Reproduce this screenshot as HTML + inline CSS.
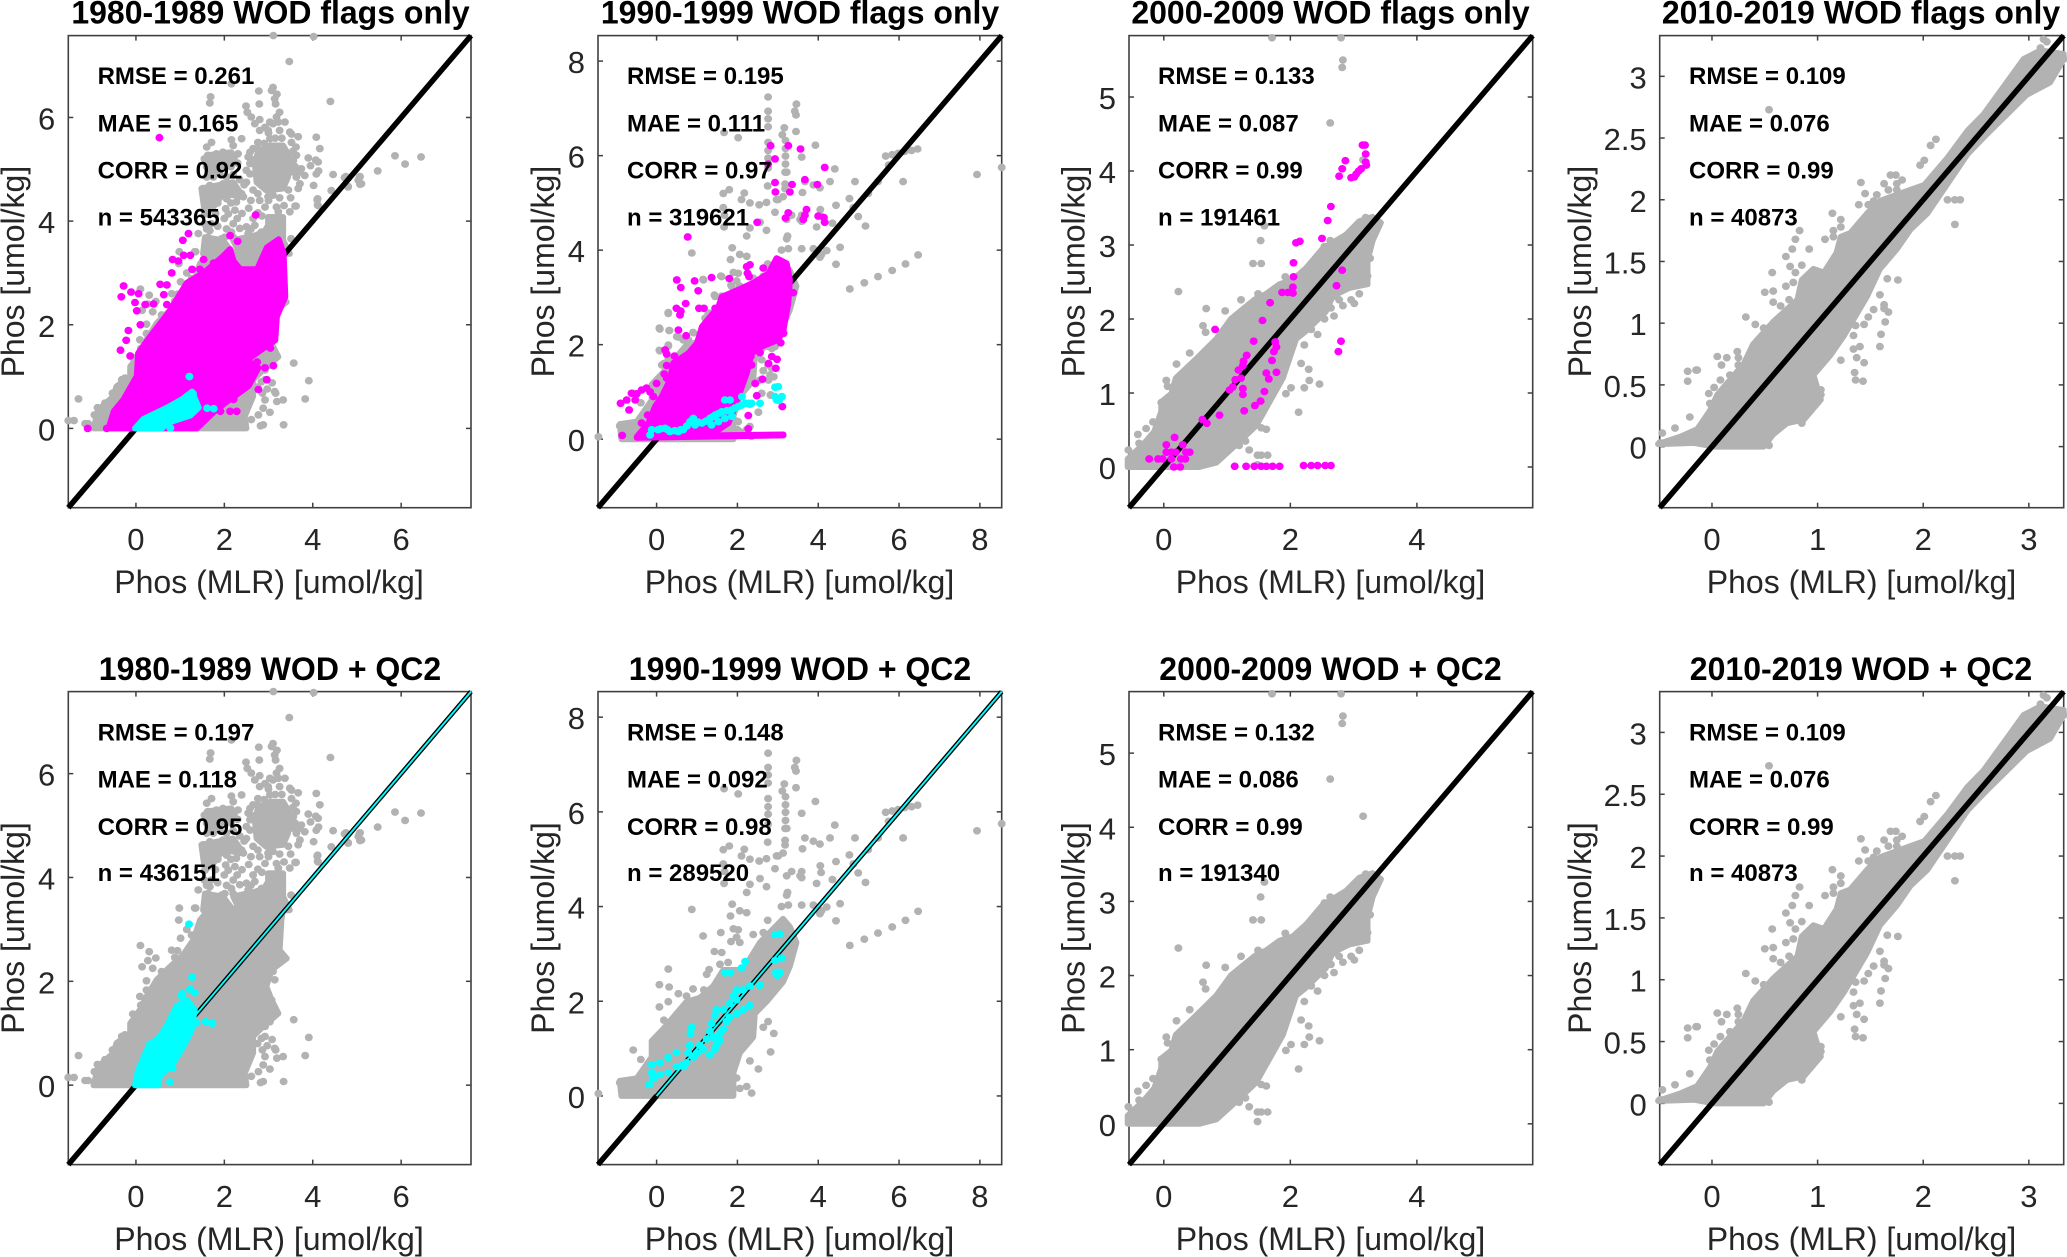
<!DOCTYPE html>
<html lang="en">
<head>
<meta charset="utf-8">
<title>Phos vs MLR scatter panels</title>
<style>
html,body{margin:0;padding:0;background:#fff;}
svg{display:block;font-family:"Liberation Sans",Arial,sans-serif;}
.title{font-size:32px;font-weight:bold;text-anchor:middle;fill:#000;}
.label{font-size:32px;text-anchor:middle;fill:#262626;}
.stat{font-size:24px;font-weight:bold;fill:#000;}
.tick{font-size:31px;fill:#262626;}
</style>
</head>
<body>
<svg id="figure" xmlns="http://www.w3.org/2000/svg" width="2067" height="1257" viewBox="0 0 2067 1257">
<rect x="0" y="0" width="2067" height="1257" fill="#fff"/>
<g id="marks"></g>

<g>
<text class="title" x="270.5" y="23.7">1980-1989 WOD flags only</text>
<text class="title" x="800" y="23.7">1990-1999 WOD flags only</text>
<text class="title" x="1330.5" y="23.7">2000-2009 WOD flags only</text>
<text class="title" x="1861" y="23.7">2010-2019 WOD flags only</text>
<text class="title" x="270" y="680">1980-1989 WOD + QC2</text>
<text class="title" x="800" y="680">1990-1999 WOD + QC2</text>
<text class="title" x="1330.5" y="680">2000-2009 WOD + QC2</text>
<text class="title" x="1861" y="680">2010-2019 WOD + QC2</text>
</g>

<g>
<text class="label" x="269" y="593">Phos (MLR) [umol/kg]</text>
<text class="label" x="799.5" y="593">Phos (MLR) [umol/kg]</text>
<text class="label" x="1330.5" y="593">Phos (MLR) [umol/kg]</text>
<text class="label" x="1861.5" y="593">Phos (MLR) [umol/kg]</text>
<text class="label" x="269" y="1250">Phos (MLR) [umol/kg]</text>
<text class="label" x="799.5" y="1250">Phos (MLR) [umol/kg]</text>
<text class="label" x="1330.5" y="1250">Phos (MLR) [umol/kg]</text>
<text class="label" x="1861.5" y="1250">Phos (MLR) [umol/kg]</text>
</g>

<g>
<text class="label" transform="translate(24,271.6) rotate(-90)">Phos [umol/kg]</text>
<text class="label" transform="translate(554,271.6) rotate(-90)">Phos [umol/kg]</text>
<text class="label" transform="translate(1084.5,271.6) rotate(-90)">Phos [umol/kg]</text>
<text class="label" transform="translate(1591,271.6) rotate(-90)">Phos [umol/kg]</text>
<text class="label" transform="translate(24,928) rotate(-90)">Phos [umol/kg]</text>
<text class="label" transform="translate(554,928) rotate(-90)">Phos [umol/kg]</text>
<text class="label" transform="translate(1084.5,928) rotate(-90)">Phos [umol/kg]</text>
<text class="label" transform="translate(1591,928) rotate(-90)">Phos [umol/kg]</text>
</g>

<g>
<text class="stat" x="97.6" y="83.8">RMSE = 0.261</text>
<text class="stat" x="97.6" y="131.3">MAE = 0.165</text>
<text class="stat" x="97.6" y="178.7">CORR = 0.92</text>
<text class="stat" x="97.6" y="225.4">n = 543365</text>
<text class="stat" x="627" y="83.8">RMSE = 0.195</text>
<text class="stat" x="627" y="131.3">MAE = 0.111</text>
<text class="stat" x="627" y="178.7">CORR = 0.97</text>
<text class="stat" x="627" y="225.4">n = 319621</text>
<text class="stat" x="1158" y="83.8">RMSE = 0.133</text>
<text class="stat" x="1158" y="131.3">MAE = 0.087</text>
<text class="stat" x="1158" y="178.7">CORR = 0.99</text>
<text class="stat" x="1158" y="225.4">n = 191461</text>
<text class="stat" x="1689" y="83.8">RMSE = 0.109</text>
<text class="stat" x="1689" y="131.3">MAE = 0.076</text>
<text class="stat" x="1689" y="178.7">CORR = 0.99</text>
<text class="stat" x="1689" y="225.4">n = 40873</text>
<text class="stat" x="97.6" y="740.4">RMSE = 0.197</text>
<text class="stat" x="97.6" y="787.6">MAE = 0.118</text>
<text class="stat" x="97.6" y="834.8">CORR = 0.95</text>
<text class="stat" x="97.6" y="880.8">n = 436151</text>
<text class="stat" x="627" y="740.4">RMSE = 0.148</text>
<text class="stat" x="627" y="787.6">MAE = 0.092</text>
<text class="stat" x="627" y="834.8">CORR = 0.98</text>
<text class="stat" x="627" y="880.8">n = 289520</text>
<text class="stat" x="1158" y="740.4">RMSE = 0.132</text>
<text class="stat" x="1158" y="787.6">MAE = 0.086</text>
<text class="stat" x="1158" y="834.8">CORR = 0.99</text>
<text class="stat" x="1158" y="880.8">n = 191340</text>
<text class="stat" x="1689" y="740.4">RMSE = 0.109</text>
<text class="stat" x="1689" y="787.6">MAE = 0.076</text>
<text class="stat" x="1689" y="834.8">CORR = 0.99</text>
<text class="stat" x="1689" y="880.8">n = 40873</text>
</g>
</svg>

<script>
/* ---------- tick labels and axis limits (data units) ---------- */
const ticks1980 = [0, 2, 4, 6];
const ticks1990 = [0, 2, 4, 6, 8];
const ticks2000X = [0, 2, 4];
const ticks2000Y = [0, 1, 2, 3, 4, 5];
const ticks2010X = [0, 1, 2, 3];
const ticks2010Y = [0, 0.5, 1, 1.5, 2, 2.5, 3];
const limits1980 = [-1.53, 7.58];
const limits1990X = [-1.45, 8.54];
const limits1990Y = [-1.45, 8.54];
const limits2000 = [-0.55, 5.83];
const limits2010 = [-0.495, 3.33];

/* ---------- 1980-1989 ---------- */
const gray1980Main = [[-0.96,0],[-0.85,0.36],[-0.51,0.62],[-0.44,0.81],[-0.13,1],[-0.13,1.19],[0.09,1.45],[0.24,1.71],[0.47,2.03],[0.77,2.28],[1.07,2.51],[1.3,2.8],[1.45,3.18],[1.67,3.4],[3.33,3.4],[3.29,3.18],[3.25,2.6],[3.41,2.44],[3.07,2.22],[2.95,1.9],[3.07,1.64],[3.22,1.38],[2.88,1.13],[2.65,0.94],[2.65,0.62],[2.46,0.23],[2.5,0]];
const gray1980Core1 = [[2.76,5.33],[3.03,5.46],[3.33,5.46],[3.48,5.24],[3.44,4.85],[3.33,4.63],[2.95,4.59],[2.73,4.75],[2.69,5.11]];
const gray1980Core2 = [[2.99,4.08],[3.33,4.08],[3.33,3.63],[3.48,3.37],[2.35,3.37],[2.2,3.63],[2.5,3.69],[2.88,3.76],[2.99,3.92]];
const gray1980Core3 = [[1.6,5.27],[2.16,5.33],[2.24,5.22],[1.71,4.91]];
const gray1980Core4 = [[1.48,4.63],[2.2,4.75],[2.43,4.47],[1.97,4.53],[1.75,4.27],[1.56,4.14]];
const gray1980Core5 = [[1.56,3.69],[1.97,3.63],[2.2,3.37],[1.52,3.37]];
const gray1980Points = [[3.11,7.58],[4.02,7.56],[3.47,7.08],[4.75,4.86],[4.8,4.67],[5.07,4.86],[5.07,4.71],[5.47,4.97],[5.86,5.26],[6.09,5.1],[6.45,5.24],[4.13,4.97],[4.11,4.43],[4.11,4.31],[3.6,4.29],
[3.1,6.58],[3.07,6.52],[3.19,6.45],[3.14,6.36],[3.16,6.26],[3.25,6.1],[3.18,6.01],[3.22,5.91],[3.03,5.91],[2.78,6.51],[2.79,6.26],[1.69,6.4],[1.67,6.28],[4.4,6.31],[2.16,6.65],
[2.49,6.22],[2.52,6.1],[2.61,6.01],[2.8,5.96],[2.69,5.88],[2.8,5.75],[2.92,5.81],[3.1,5.88],[3.37,5.91],[3.48,5.72],[3.52,5.68],[3.67,5.63],[4.08,5.62],[4.16,5.4],[3.03,5.59],[2.76,5.52],[2.76,5.4],[3.52,5.52],[3.62,5.43],[2.99,5.75],
[2.39,5.59],[2.16,5.57],[2.2,5.46],[2.31,5.3],[1.97,5.33],[1.82,5.3],[1.71,5.52],[1.6,5.43],[1.63,5.27],[1.67,5.14],[2.12,5.24],[2.58,5.33],[2.54,5.24],[3.63,5.27],[3.56,5.17],[3.9,5.22],[4.07,5.18],[3.95,5.07],[4.12,5.14],[3.82,4.88],[4.08,4.91],[4.46,4.9],[4.02,4.69],[3.74,5.01],[3.63,4.85],[3.71,4.72],[3.67,4.63],
[2.58,5.11],[2.5,4.98],[2.5,4.75],[2.58,4.91],[2.39,4.53],[2.31,4.47],[2.27,4.63],[2.12,4.69],[1.97,4.72],[1.82,4.66],[1.67,4.69],[1.52,4.63],[1.63,4.5],[1.6,4.37],[1.56,4.14],[2.05,4.43],[2.03,4.24],[2.24,4.21],[2.09,4.14],[2.29,4.05],[3.48,4.18],[3.62,4.29],[4.1,4.41],[4.12,4.3],[3.51,3.66],[2.76,4.53],[2.8,4.4],[2.99,4.47],[3.18,4.27],[3.22,4.18],[2.76,4.16],[2.92,4.27],[2.27,4.37],[2.43,4.47],
[2.5,3.89],[2.54,3.76],[2.35,3.86],[2.16,3.79],[2.01,3.69],[1.94,3.66],[1.67,3.82],[1.63,3.69],[1.41,3.76],[1.33,3.41],[2.2,3.69],[2.5,3.57],[2.76,3.73],[2.84,3.79],[2.69,3.92],[4.72,4.84],[5.06,4.85],[5.1,4.72],[4.8,4.66],[4.42,4.59],[5.03,4.79],
[3.57,1.26],[3.91,0.92],[3.83,0.57],[3.34,0.07],[2.88,0.07],[2.82,0.05],[3.03,0.31],[2.88,0.39],[2.92,0.55],[3.19,0.52],[3.33,0.55],[3.14,0.71],[3.16,0.68],[2.97,0.76],[2.86,0.68],[2.75,0.8],[2.84,0.9],[2.92,0.94],[3.08,0.88],[3.03,1.22],[2.92,1.13],[3.19,1.4],[3.1,1.45],[3.07,1.64],[2.99,1.71],[3.14,2.03],[3.1,2.19],[3.33,2.43],[2.61,0.17],[2.77,0.26],
[-1.3,0.57],[-1.53,0.15],[-1.4,0.15],[-1.15,0.09],[-1.08,0.09],[-0.94,0.26],[-0.87,0.4],[-0.7,0.49],[-0.53,0.68],[-0.32,0.94],[-0.25,0.97],[-0.07,1.37],[-0.1,1.19],[0.09,1.71],[0.11,1.54],[0.24,1.83],[0.24,2.01],[0.14,2.28],[0.38,2.25],[0.27,2.4],[0.45,2.45],[0.3,2.57],[0.1,2.69],[0.58,2.19],[0.81,2.6],[0.94,2.59],[0.88,2.46],[1.01,2.83],[1.15,3],[0.97,3.18],[0.98,3.41],[1.35,3.41],[1.26,2.89],[1.37,2.83]];
const gray1980PlumeFill = [[1.55,5.2],[1.6,5.05],[1.7,5],[1.85,5.15],[2,5.1],[2.15,5.05],[2.3,5.12],[1.75,4.85],[1.9,4.9],[2.05,4.85],[1.6,4.85],[2.2,4.9],[2.35,4.8],[2.45,4.7],[1.55,4.45],[1.7,4.45],[1.85,4.35],[2.15,4.35],[1.65,4.25],[1.8,4.15],[2,4.05],[2.2,3.95],[1.55,3.95],[1.7,3.95],[1.6,3.85],[1.85,3.9],[2.05,3.85],[2.4,4.15],[2.55,4.25],[2.6,4.4],[2.65,4.05],[2.85,4.1],[2.6,3.85],[3,4.4],[3.1,4.5],[3.25,4.45],[3.35,4.3],[2.9,5.5],[3.15,5.6],[3.3,5.6],[3.25,5.75],[3,5.7],[2.65,5.4],[2.6,5.2],[2.65,4.6],[3.45,4.6],[3.5,4.45],[3.55,4.95],[3.6,5.05],[3.55,5.35],[3.7,4.95]];
const magenta1980Main = [[-0.62,0],[-0.5,0.33],[-0.28,0.56],[0.02,1.01],[0.05,1.45],[0.3,1.75],[0.75,2.25],[1.15,2.81],[1.53,3],[1.94,3.3],[2.13,3.46],[2.21,3.23],[2.36,3.07],[2.74,3.07],[2.96,3.49],[3.23,3.65],[3.34,3.38],[3.38,2.54],[3.19,2.16],[3.15,1.7],[2.89,1.55],[2.51,1.32],[2.77,1.17],[2.55,0.82],[2.13,0.56],[1.83,0.37],[1.38,0]];
const magenta1980Points = [[0.53,5.61],[2.71,4.12],[1.19,3.76],[1.06,3.63],[2.13,3.72],[2.3,3.61],[-0.28,2.75],[-0.33,2.54],[-0.11,2.63],[0.06,2.6],[-0.02,2.43],[0.02,2.27],[0.21,2.39],[0.4,2.4],[0.55,2.78],[0.63,2.58],[0.7,2.39],[0.83,3.26],[0.96,3.23],[1.08,3.34],[1.23,3.34],[0.81,3],[0.7,2.77],[-0.17,1.89],[0.1,2],[-0.22,1.7],[-0.35,1.51],[-0.13,1.4],[-1.09,0],[-0.66,0],[1.45,3.07],[1.76,3.19],[1.27,3.07],[1.53,3.26],[2.77,0.75],[2.96,0.94],[3.11,1.21],[2.92,1.17],[3.04,1.55],[2.89,1.74],[2.74,1.28],[2.51,0.82],[2.36,0.75],[2.21,0.56],[2.28,0.33],[2.13,0.33],[1.91,0.33],[1.34,0.04],[1.15,0.06]];
const cyan1980FlagsMain = [[-0.02,0],[0.17,0.18],[0.7,0.4],[1.04,0.56],[1.27,0.71],[1.42,0.4],[1.23,0.25],[0.7,0.1],[0.59,0]];
const cyan1980FlagsPoints = [[1.21,1],[1.61,0.39],[1.76,0.38],[0.78,0.01],[1.29,0.67]];
const cyan1980QcMain = [[-0.02,0],[0.05,0.29],[0.28,0.74],[0.54,0.94],[0.69,1.13],[0.92,1.52],[1.15,1.64],[1.33,1.45],[1.26,1.06],[1.07,0.74],[0.84,0.42],[0.54,0.17],[0.5,0]];
const cyan1980QcPoints = [[1.2,3.1],[1.27,2.08],[1.05,1.76],[1.03,1.72],[1.22,1.85],[1.33,1.78],[1.58,1.22],[1.73,1.19],[1.37,1.2],[0.77,0.06],[0.26,0.68],[0.32,0.79],[0.83,0.33]];

/* ---------- 1990-1999 ---------- */
const gray1990Main = [[-0.87,0],[-0.91,0.32],[-0.49,0.37],[-0.12,0.82],[-0.12,1.16],[0.16,1.41],[0.49,1.74],[0.74,1.99],[1.07,2.07],[1.4,2.32],[1.65,2.66],[2.14,2.66],[2.56,3.24],[3.13,3.74],[3.3,3.57],[3.46,3.24],[3.3,2.74],[3.13,2.41],[2.72,1.99],[2.43,1.74],[2.39,1.24],[2.06,0.91],[1.9,0.49],[1.9,0]];
const gray1990Points = [[2.76,7.24],[3.46,7.09],[3.42,6.94],[3.45,6.86],[2.76,6.94],[2.76,6.78],[2.76,6.61],[3.16,6.59],[3.11,6.44],[3.45,6.51],[2.02,6.38],[1.67,6.49],[2.76,6.28],[2.76,6.11],[2.76,5.95],[2.76,5.74],[3.19,6.32],[3.19,6.15],[3.19,5.99],[3.19,5.82],[3.18,5.65],[3.22,5.65],[3.93,6.22],[3.59,5.97],[4.41,5.72],[3.67,5.45],[3.88,5.38],[4.04,5.32],[4.29,5.45],[4.91,5.45],[3.61,5.22],[2.75,5.36],[3.18,5.4],[3.18,5.3],[2.97,5.07],[3.13,5.13],[1.8,5.28],[1.65,5.2],[2.17,5.21],[2.1,5.07],[2.31,5],[1.65,4.9],[2.54,4.96],[2.72,5.01],[2.93,4.8],[3.01,5.07],[1.68,4.74],[1.67,4.49],[2.56,4.59],[2.31,4.47],[2.72,4.42],[2.23,4.3],[3.59,4.74],[3.59,4.61],[3.55,4.65],[3.22,4.65],[3.34,4.74],[3.22,4.24],[3.24,4.3],[3.59,4.03],[3.09,4],[3.26,4.03],[3.96,4.49],[4.35,4.57],[4.54,4.06],[4.44,3.7],[3.88,4.03],[4.08,3.91],[4.21,3.99],[4.04,3.85],[4.05,4.86],[4.07,4.72],[4.44,4.95],[4.77,5.09],[4.87,4.9],[4.99,4.71],[5.17,4.51],[5.67,5.99],[5.83,6.02],[5.98,6.05],[6.14,6.09],[6.31,6.11],[6.46,6.14],[5.74,5.8],[6.1,5.45],[5.24,5.2],[5.48,5.45],[7.93,5.6],[8.54,5.75],[4.78,3.18],[5.14,3.31],[5.48,3.44],[5.83,3.57],[6.16,3.71],[6.47,3.9],[0.87,3.94],[1.87,4.05],[2.06,3.91],[2.23,3.87],[1.83,3.8],[2.75,3.71],[2.64,3.45],[2.39,3.41],[1.59,3.45],[1.43,3.05],[1.15,3.38],[1.9,3.53],[2.02,3.51],[1.98,3.35],[1.84,3.26],[2.06,3.24],[1.61,3.03],[0.29,2.68],[0.07,2.35],[0.31,2.3],[0.9,2.26],[1.17,2.24],[0.29,1.99],[0.07,1.88],[0.18,1.6],[1.57,2.78],[1.77,2.82],[1.24,2.57],[1.3,2.67],[0.54,2.16],[0.74,2.11],[-0.58,0.97],[-0.39,0.77],[-1.44,0.05],[2.76,1.57],[2.64,1.45],[2.82,0.93],[2.9,1.32],[2.52,0.57],[2.31,0.74],[1.98,0.38],[2.23,0.2],[2.35,0.06],[2.06,0.16],[-0.91,0.28],[-0.74,0.32]];
const gray1990FlagsExtra = [[2.77,1.96],[2.64,2.03],[2.85,1.92],[2.93,1.96],[2.6,1.68],[2.52,1.89],[2.64,1.45],[2.85,1.5],[2.56,1.25],[2.81,1.36],[2.77,1.25],[2.6,0.97],[2.82,0.94],[2.52,0.57],[2.02,0.37],[2,0.2],[2.31,0.27],[1.82,0.16],[1.61,3.44],[1.16,3.37],[1.86,3.23],[1.45,3.02],[0.08,2.33],[0.32,2.3],[0.29,2.66],[1.28,2.66],[1.2,2.56],[0.5,2.17],[0.66,2.1],[0.79,2.1],[0.91,2.25],[0.08,1.87],[0.29,1.97],[0.13,1.57],[0.29,1.71]];
const magenta1990Main = [[-0.49,0.05],[-0.2,0.34],[-0.04,0.69],[0.13,0.9],[0.33,1.25],[0.41,1.61],[0.79,1.82],[1,2.03],[1.12,2.38],[1.53,2.8],[1.61,3.01],[2.02,3.16],[2.44,3.33],[2.77,3.51],[2.97,3.83],[3.22,3.72],[3.3,3.37],[3.26,2.87],[3.14,2.31],[3.01,2.1],[2.6,1.96],[2.35,1.82],[2.23,1.39],[2.11,1.11],[2,0.83],[1.78,0.34],[1.53,0.2],[0.37,0.05]];
const magenta1990Tail = [[-0.49,0.03],[3.14,0.08],[3.14,0.1],[-0.4,0.06]];
const magenta1990Points = [[2.82,6.21],[3.26,6.21],[3.56,6.14],[2.93,5.93],[2.76,5.82],[4.16,5.75],[2.93,5.43],[3.35,5.39],[3.67,5.49],[3.98,5.39],[2.94,5.23],[3.3,5.23],[3.71,4.86],[3.26,4.79],[3.19,4.68],[3.67,4.74],[3.63,4.65],[4,4.72],[4.14,4.69],[4.16,4.59],[2.49,4.59],[0.77,4.28],
[0.5,3.37],[0.6,3.21],[0.94,3.35],[1.03,3.14],[1.36,3.42],[1.8,3.4],[0.72,2.87],[0.49,2.77],[0.6,2.71],[0.58,2.63],[1.05,2.77],[1.17,2.77],[1.45,2.77],[0.54,2.31],[0.73,2.19],[0.21,1.89],[0.25,1.8],[0.44,1.76],[0.25,1.56],[0.19,1.38],[0.25,1.29],
[-0.89,0.76],[-0.68,0.62],[-0.74,0.83],[-0.62,0.97],[-0.49,0.96],[-0.53,0.83],[-0.37,1.04],[-0.25,1.08],[0,1.18],[-0.16,1],[-0.08,0.9],[-0.22,0.51],[-0.37,0.34],[-0.85,0.08],
[2.98,1.69],[2.85,1.75],[2.95,1.5],[2.62,1.27],[2.77,1.6],[2.35,1.57],[2.44,1.18],[2.48,0.92],[3.11,0.69],[2.27,0.5],[2.27,0.22],[3.07,2.04],[3.14,2.24],[2.33,1.75],[2.56,1.83],[2.31,3.69],[2.23,3.65],[2.25,3.51],[2.64,3.62],[2.54,3.33],[3.38,3.1],[2.29,3.44]];
const cyan1990FlagsPoints = [[-0.16,0.09],[-0.12,0.2],[0.04,0.2],[0.21,0.23],[0.33,0.16],[0.54,0.16],[0.66,0.2],[0.83,0.37],[0.91,0.44],[0.95,0.3],[1.12,0.34],[1.32,0.44],[1.45,0.51],[1.61,0.58],[1.86,0.62],[2.02,0.69],[2.19,0.76],[2.35,0.76],[2.56,0.76],[1.82,0.83],[1.69,0.83],[2.11,0.9],[1.36,0.3],[1.53,0.37],[1.86,0.48],[1.69,0.44],[0.1,0.22],[0.27,0.2],[0.45,0.18],[0.6,0.2],[0.75,0.28],[1.03,0.36],[1.22,0.38],[1.38,0.47],[1.53,0.54],[1.74,0.6],[1.94,0.66],[2.1,0.72],[2.28,0.76],[3.01,1.11],[2.93,1.1],[2.93,0.9],[3.1,0.9],[2.97,0.83],[3.03,0.82]];
const cyan1990QcPoints = [[-0.18,0.24],[-0.12,0.49],[-0.12,0.66],[0.08,0.7],[0.29,0.81],[0.49,0.92],[-0.08,0.37],[0.08,0.45],[0.29,0.49],[0.49,0.62],[0.66,0.62],[0.74,0.7],[0.78,0.91],[0.82,1.07],[0.84,1.32],[0.87,1.45],[0.91,0.82],[1,0.91],[1.07,1.07],[1.24,1.2],[1.32,1.37],[1.36,1.53],[1.44,1.7],[1.48,1.82],[1.32,0.87],[1.44,0.99],[1.48,1.24],[1.57,1.32],[1.65,1.41],[1.73,1.57],[1.81,1.66],[1.98,1.74],[2.14,1.82],[2.31,1.91],[1.65,1.82],[1.81,1.95],[1.98,2.03],[1.9,2.11],[1.98,2.24],[2.14,2.24],[2.31,2.32],[2.56,2.34],[1.69,2.6],[1.83,2.6],[2.1,2.7],[2.19,2.84],[2.93,3.41],[3.05,3.42],[2.93,2.86],[3.09,2.91],[2.95,2.61],[3.05,2.61],[2.99,2.55],[0.66,0.66],[1.15,0.99],[1.4,1.24],[1.57,1.16],[1.48,1.07]];

/* ---------- 2000-2009 ---------- */
const gray2000Main = [[-0.57,0],[-0.57,0.11],[-0.33,0.3],[-0.15,0.48],[-0.04,0.75],[-0.04,0.88],[0.12,0.99],[0.19,1.2],[0.51,1.46],[0.83,1.73],[1.06,2],[1.43,2.26],[1.62,2.34],[1.83,2.47],[2.04,2.53],[2.25,2.69],[2.51,2.95],[2.88,3.14],[3.09,3.32],[3.3,3.38],[3.43,3.3],[3.3,3.06],[3.22,2.79],[3.22,2.47],[2.93,2.42],[2.67,2.31],[2.56,2.1],[2.25,1.84],[2.09,1.73],[1.88,1.2],[1.67,0.88],[1.46,0.56],[1.14,0.3],[0.83,0.06],[0.56,0]];
const gray2000Points = [[1.71,5.8],[2.8,5.8],[2.83,5.5],[2.82,5.4],[2.63,4.65],[3.15,4.15],[1.59,3.26],[1.53,3.06],[1.41,2.75],[1.54,2.75],[0.23,2.37],[1.22,2.26],[0.67,2.14],[0.97,2.11],[0.62,1.91],[0.66,1.82],[1.34,2.11],[1.49,2.34],[1.49,2.29],[1.92,2.57],[2.39,2.78],[2.54,2.98],[2.63,3.06],[0.41,1.54],[0.2,1.39],[0.75,1.62],[0.04,1.17],[0.06,1.09],[-0.04,0.87],[-0.17,0.61],[-0.28,0.52],[-0.41,0.44],[-0.39,0.32],[-0.56,0.23],[2.04,1.65],[2.22,1.65],[2.17,1.4],[2.29,1.32],[2.3,1.17],[2.22,1.07],[2.46,1.12],[2.01,1.07],[1.93,0.99],[2.13,0.74],[2.43,1.79],[2.33,1.86],[2.54,2],[2.69,2.04],[2.77,2.26],[2.83,2.18],[2.96,2.26],[3.01,2.21],[3.09,2.34],[2.69,2.31],[2.64,2.15],[3.26,2.82],[3.22,2.58],[1.54,0.53],[1.62,0.51],[1.48,0.16],[1.54,0.16],[1.64,0.16],[1.48,0.03],[1.35,0.23],[1.29,0.35],[1.19,0.29],[3.19,3.37],[3.41,3.3]];
const magenta2000Points = [[3.14,4.35],[3.18,4.35],[3.19,4.23],[3.19,4.12],[3.2,4.08],[2.87,4.14],[2.82,4.03],[2.77,3.93],[2.96,3.91],[3.01,3.92],[3.04,3.96],[3.08,4],[3.12,4.03],[2.64,3.52],[2.59,3.33],[2.5,3.09],[2.09,3.03],[2.15,3.05],[2.05,2.76],[2.05,2.57],[2.04,2.43],[1.87,2.36],[1.96,2.36],[2.04,2.35],[2.82,2.66],[2.73,2.45],[1.68,2.22],[1.56,1.98],[0.81,1.86],[1.42,1.7],[1.31,1.51],[2.8,1.7],[2.76,1.56],[1.76,1.69],[1.78,1.62],[1.74,1.56],[1.71,1.44],[1.78,1.28],[1.26,1.43],[1.25,1.37],[1.18,1.31],[1.13,1.18],[1.22,1.2],[1.62,1.27],[1.66,1.19],[1.59,1.02],[1.53,0.89],[1.44,0.83],[1.27,0.76],[1.25,1.06],[1.25,0.98],[1.04,1.04],[1.09,1.08],[0.88,0.7],[0.61,0.64],[0.68,0.59],[0.17,0.4],[0.04,0.3],[0.3,0.3],[0.04,0.2],[0.12,0.2],[0.19,0.2],[0.35,0.2],[0.41,0.2],[-0.23,0.11],[-0.09,0.11],[-0.02,0.11],[0.12,0.11],[0.27,0.11],[0.34,0.11],[0.16,0],[0.26,0],[1.12,0.01],[1.3,0.01],[1.43,0.01],[1.54,0.01],[1.62,0.01],[1.72,0.01],[1.83,0.01],[2.21,0.02],[2.33,0.02],[2.43,0.02],[2.55,0.02],[2.64,0.02]];

/* ---------- 2010-2019 ---------- */
const gray2010Main = [[-0.51,0.02],[-0.3,0.08],[-0.14,0.14],[-0.02,0.29],[0.05,0.42],[0.3,0.67],[0.39,0.83],[0.58,1.01],[0.81,1.19],[0.85,1.35],[0.96,1.44],[1.06,1.41],[1.18,1.57],[1.22,1.7],[1.31,1.73],[1.47,1.89],[1.59,1.99],[1.78,2.05],[2.01,2.12],[2.23,2.34],[2.42,2.56],[2.57,2.69],[2.79,2.95],[2.95,3.14],[3.11,3.21],[3.33,3.18],[3.33,3.14],[3.2,2.95],[2.98,2.85],[2.79,2.69],[2.6,2.53],[2.42,2.37],[2.19,2.08],[2.04,1.89],[1.88,1.76],[1.75,1.6],[1.59,1.44],[1.47,1.22],[1.25,0.9],[1.12,0.74],[0.96,0.58],[1.03,0.38],[0.87,0.22],[0.71,0.19],[0.58,0.1],[0.49,0],[0.02,0],[-0.17,0.03]];
const gray2010Points = [[3.14,3.3],[3.17,3.28],[3.11,3.23],[3.09,3.19],[0.54,2.73],[2.12,2.49],[2.07,2.44],[2.01,2.32],[1.97,2.28],[1.74,2.2],[1.69,2.2],[1.63,2.13],[1.8,2.16],[1.75,2.13],[1.75,2.08],[1.67,2.08],[1.41,2.14],[1.45,2.05],[1.39,1.96],[1.48,1.96],[1.56,2.04],[1.53,1.99],[2.23,2],[2.3,2],[2.35,2],[2.3,1.8],[1.14,1.89],[1.22,1.84],[1.22,1.78],[1.15,1.75],[1.07,1.68],[1.15,1.7],[0.83,1.75],[0.79,1.68],[0.76,1.6],[0.7,1.54],[0.74,1.46],[0.79,1.41],[0.85,1.47],[0.92,1.6],[0.57,1.41],[0.5,1.25],[0.58,1.26],[0.7,1.3],[0.77,1.33],[0.58,1.17],[0.65,1.14],[0.73,1.19],[0.32,1.05],[0.41,0.99],[0.49,0.96],[0.05,0.73],[0.14,0.72],[0.24,0.77],[0.25,0.72],[0.25,0.66],[-0.23,0.61],[-0.23,0.53],[-0.15,0.62],[-0.14,0.62],[-0.03,0.43],[0.09,0.66],[0.08,0.54],[0.02,0.48],[-0.02,0.35],[0.17,0.58],[-0.21,0.24],[-0.35,0.15],[-0.47,0.11],[-0.49,0.03],[-0.06,0.21],[0.54,0.01],[1.76,1.35],[1.66,1.36],[1.59,1.23],[1.63,1.15],[1.53,1.11],[1.63,1.12],[1.67,1.09],[1.64,1.01],[1.6,0.91],[1.59,0.81],[1.48,1.05],[1.44,0.99],[1.36,0.98],[1.34,0.9],[1.34,0.79],[1.4,0.81],[1.37,0.72],[1.44,0.68],[1.22,0.7],[1.35,0.6],[1.36,0.54],[1.43,0.53],[1.03,0.46],[1.03,0.42],[1.01,0.38],[0.93,0.29],[0.85,0.19],[0.77,0.21],[3.33,3.14]];

/* ---------- panel wiring ---------- */
const plots = [
  {id:'1980-flags', col:0, row:0, xl:limits1980, yl:limits1980, xt:ticks1980, yt:ticks1980,
   gray:[gray1980Main,gray1980Core1,gray1980Core2,gray1980Core3,gray1980Core4,gray1980Core5], grayPts:gray1980Points.concat(gray1980PlumeFill),
   magenta:[magenta1980Main], magentaPts:magenta1980Points, cyan:[cyan1980FlagsMain], cyanPts:cyan1980FlagsPoints, stripe:false},
  {id:'1990-flags', col:1, row:0, xl:limits1990X, yl:limits1990Y, xt:ticks1990, yt:ticks1990,
   gray:[gray1990Main], grayPts:gray1990Points.concat(gray1990FlagsExtra),
   magenta:[magenta1990Main,magenta1990Tail], magentaPts:magenta1990Points, cyan:[], cyanPts:cyan1990FlagsPoints, stripe:false},
  {id:'2000-flags', col:2, row:0, xl:limits2000, yl:limits2000, xt:ticks2000X, yt:ticks2000Y,
   gray:[gray2000Main], grayPts:gray2000Points, magenta:[], magentaPts:magenta2000Points, cyan:[], cyanPts:[], stripe:false},
  {id:'2010-flags', col:3, row:0, xl:limits2010, yl:limits2010, xt:ticks2010X, yt:ticks2010Y,
   gray:[gray2010Main], grayPts:gray2010Points, magenta:[], magentaPts:[], cyan:[], cyanPts:[], stripe:false},
  {id:'1980-qc2', col:0, row:1, xl:limits1980, yl:limits1980, xt:ticks1980, yt:ticks1980,
   gray:[gray1980Main,gray1980Core1,gray1980Core2,gray1980Core3,gray1980Core4,gray1980Core5], grayPts:gray1980Points.concat(gray1980PlumeFill),
   magenta:[], magentaPts:[], cyan:[cyan1980QcMain], cyanPts:cyan1980QcPoints, stripe:true},
  {id:'1990-qc2', col:1, row:1, xl:limits1990X, yl:limits1990Y, xt:ticks1990, yt:ticks1990,
   gray:[gray1990Main], grayPts:gray1990Points, magenta:[], magentaPts:[], cyan:[], cyanPts:cyan1990QcPoints, stripe:true},
  {id:'2000-qc2', col:2, row:1, xl:limits2000, yl:limits2000, xt:ticks2000X, yt:ticks2000Y,
   gray:[gray2000Main], grayPts:gray2000Points, magenta:[], magentaPts:[], cyan:[], cyanPts:[], stripe:false},
  {id:'2010-qc2', col:3, row:1, xl:limits2010, yl:limits2010, xt:ticks2010X, yt:ticks2010Y,
   gray:[gray2010Main], grayPts:gray2010Points, magenta:[], magentaPts:[], cyan:[], cyanPts:[], stripe:false}
];

const NS = 'http://www.w3.org/2000/svg';
const colLeft = [68.3, 598, 1129, 1659.7];
const colRight = [471, 1001.7, 1532.7, 2063.7];
const rowTop = [35.6, 691.6];
const rowBottom = [507.7, 1164.6];
const tickLen = 5;
const yLabelGap = 13;
const xLabelBase = 42.5;
const GRAY = '#b2b2b2', MAGENTA = '#ff00ff', CYAN = '#00ffff', AXIS = '#404040';

function svgEl(tag, attrs, parent) {
  const el = document.createElementNS(NS, tag);
  for (const k in attrs) el.setAttribute(k, attrs[k]);
  parent.appendChild(el);
  return el;
}

function drawHulls(hulls, color, xs, ys, parent) {
  hulls.forEach(function (hull) {
    const pts = hull.map(function (p) { return xs(p[0]).toFixed(1) + ',' + ys(p[1]).toFixed(1); }).join(' ');
    const el = svgEl('polygon', {points: pts, fill: color, stroke: color, 'stroke-width': 6, 'stroke-linejoin': 'round'}, parent);
    
    
  });
}

function drawPoints(points, color, xs, ys, parent) {
  points.forEach(function (p) {
    const el = svgEl('ellipse', {cx: xs(p[0]).toFixed(1), cy: ys(p[1]).toFixed(1), rx: 4, ry: 3.8, fill: color}, parent);
    
    
  });
}

const marks = document.getElementById('marks');

plots.forEach(function (p) {
  const L = colLeft[p.col], R = colRight[p.col], T = rowTop[p.row], B = rowBottom[p.row];
  const xs = function (v) { return L + (v - p.xl[0]) / (p.xl[1] - p.xl[0]) * (R - L); };
  const ys = function (v) { return B - (v - p.yl[0]) / (p.yl[1] - p.yl[0]) * (B - T); };

  const g = svgEl('g', {}, marks);
  
  

  const frame = svgEl('rect', {x: L, y: T, width: R - L, height: B - T, fill: '#fff', stroke: AXIS, 'stroke-width': 1.6}, g);
  
  

  p.xt.forEach(function (v) {
    const x = xs(v);
    const t1 = svgEl('line', {x1: x, x2: x, y1: B, y2: B - tickLen, stroke: AXIS, 'stroke-width': 1.5}, g);
    
    
    const t2 = svgEl('line', {x1: x, x2: x, y1: T, y2: T + tickLen, stroke: AXIS, 'stroke-width': 1.5}, g);
    
    
    const lab = svgEl('text', {x: x, y: B + xLabelBase, 'class': 'tick', 'text-anchor': 'middle'}, g);
    lab.textContent = String(v);
    
    
  });
  p.yt.forEach(function (v) {
    const y = ys(v);
    const t1 = svgEl('line', {x1: L, x2: L + tickLen, y1: y, y2: y, stroke: AXIS, 'stroke-width': 1.5}, g);
    
    
    const t2 = svgEl('line', {x1: R, x2: R - tickLen, y1: y, y2: y, stroke: AXIS, 'stroke-width': 1.5}, g);
    
    
    const lab = svgEl('text', {x: L - yLabelGap, y: y + 12, 'class': 'tick', 'text-anchor': 'end'}, g);
    lab.textContent = String(v);
    
    
  });

  drawHulls(p.gray, GRAY, xs, ys, g);
  drawPoints(p.grayPts, GRAY, xs, ys, g);

  if (p.stripe) {
    const ref1 = svgEl('line', {x1: xs(p.xl[0]), y1: ys(p.yl[0]), x2: xs(0), y2: ys(0), stroke: '#000', 'stroke-width': 5.5}, g);
    
    
    const ref2 = svgEl('line', {x1: xs(0), y1: ys(0), x2: xs(p.xl[1]), y2: ys(p.yl[1]), stroke: '#000', 'stroke-width': 4.6}, g);
    
    
    const s = svgEl('line', {x1: xs(0), y1: ys(0), x2: xs(p.xl[1]), y2: ys(p.yl[1]), stroke: CYAN, 'stroke-width': 1.9}, g);
    
    
  } else {
    const ref = svgEl('line', {x1: xs(p.xl[0]), y1: ys(p.yl[0]), x2: xs(p.xl[1]), y2: ys(p.yl[1]), stroke: '#000', 'stroke-width': 5.5}, g);
    
    
  }

  drawHulls(p.magenta, MAGENTA, xs, ys, g);
  drawPoints(p.magentaPts, MAGENTA, xs, ys, g);
  drawHulls(p.cyan, CYAN, xs, ys, g);
  drawPoints(p.cyanPts, CYAN, xs, ys, g);
});
</script>
</body>
</html>
